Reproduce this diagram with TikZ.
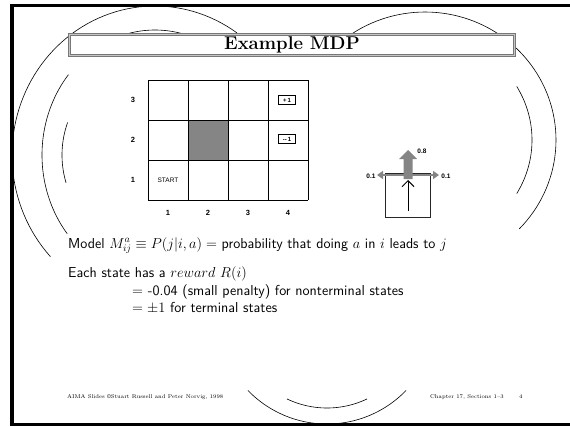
\documentclass[tikz,border=0pt]{standalone}
\usepackage{fontspec}
\newfontfamily\figfont{Liberation Sans}
\usetikzlibrary{arrows.meta}
\definecolor{figgray}{HTML}{858585}
\definecolor{boxgray}{HTML}{777777}

% elliptic background ring: cx, cy, rx, ry, from, to
\newcommand\bgarc[6]{\draw[arcline, domain=#5:#6, samples=70] plot ({#1+#3*cos(\x)},{#2-#4*sin(\x)});}

\begin{document}
\begin{tikzpicture}[x=1pt, y=-1pt, >=Stealth,
  arcline/.style={black, line width=0.6pt},
  cell/.style={line width=1pt},
  lbl/.style={font=\figfont\bfseries\fontsize{7.5}{8}\selectfont, inner sep=0pt},
  prob/.style={font=\figfont\bfseries\fontsize{6.5}{7}\selectfont, inner sep=0pt},
  termbox/.style={draw, line width=0.8pt, inner sep=0pt, minimum width=17pt, minimum height=8.5pt,
    font=\figfont\bfseries\fontsize{6}{6}\selectfont},
  titlebox/.style={draw=boxgray, double=gray!45, double distance=1.2pt, line width=1pt,
    fill=white, minimum width=444.5pt, minimum height=20.5pt, inner sep=0pt,
    font=\rmfamily\bfseries\fontsize{18.5}{20}\selectfont},
  body/.style={font=\sffamily\fontsize{14.4}{17}\selectfont, anchor=base west, inner sep=0pt},
  foot/.style={font=\rmfamily\fontsize{5.5}{6}\selectfont, anchor=base west, inner sep=0pt},
  sidearr/.style={figgray, line width=2.5pt, -{Triangle[length=6pt,width=8pt]}}]
  \useasboundingbox (0,0) rectangle (570,426);

  % background rings
  \bgarc{155}{155}{143}{149}{55}{223}
  \bgarc{155}{155}{113}{125}{70}{110}
  \bgarc{155}{155}{113}{125}{140}{219}
  \bgarc{155}{155}{93}{95}{160}{197}
  \bgarc{425}{140}{131}{128}{-44}{124}
  \bgarc{425}{140}{107}{104}{-31}{31}
  \bgarc{327}{315}{93}{93}{244.5}{295.5}
  \bgarc{327}{314}{110}{110}{224}{316}

  \node[titlebox] (title) at (292,45) {Example MDP};

  % grid world
  \fill[figgray] (188,120) rectangle (228,160);
  \foreach \gx in {148,188,228,268,308} \draw[cell] (\gx,80) -- (\gx,200);
  \foreach \gy in {80,120,160,200} \draw[cell] (148,\gy) -- (308,\gy);
  \foreach \r/\gy in {3/100,2/140,1/180} \node[lbl] (row\r) at (133,\gy) {\r};
  \foreach \c/\gx in {1/168,2/208,3/248,4/288} \node[lbl] (col\c) at (\gx,213) {\c};
  \node[font=\figfont\fontsize{6.5}{7}\selectfont, inner sep=0pt] (start) at (168,180) {START};
  \node[termbox] (plus) at (287,100) {+\,1};
  \node[termbox] (minus) at (287,139) {--\,1};

  % transition model
  \draw[line width=0.8pt, black!85] (385,173) rectangle (430,217);
  \coordinate (hub) at (408,175);
  \coordinate (west) at (377,175);
  \coordinate (east) at (439,175);
  \draw[sidearr] (hub) -- (west);
  \draw[sidearr] (hub) -- (east);
  \fill[figgray] (403.5,179) -- (403.5,159) -- (399,159) -- (408,150) -- (417,159)
    -- (412.5,159) -- (412.5,179) -- cycle;
  \coordinate (tail) at (408,211);
  \coordinate (head) at (408,180);
  \draw[line width=0.9pt, -{Straight Barb[length=6pt,width=12pt]}] (tail) -- (head);
  \node[prob] (pup) at (422,151) {0.8};
  \node[prob] (pleft) at (371,176) {0.1};
  \node[prob] (pright) at (446,176) {0.1};

  % slide text
  \node[body] (model) at (68,248) {Model $M^a_{ij}\equiv P(j|i,a) =$ probability that doing $a$ in $i$ leads to $j$};
  \node[body] (each) at (68,277) {Each state has a $reward\ R(i)$};
  \node[body] (pen) at (132,295) {$=$ -0.04 (small penalty) for nonterminal states};
  \node[body] (term) at (132,312) {$=\pm1$ for terminal states};

  \node[foot] (credit) at (67,398) {AIMA Slides \copyright Stuart Russell and Peter Norvig, 1998};
  \node[foot] (chap) at (430,398) {Chapter 17, Sections 1--3};
  \node[foot] (page) at (519,398) {4};

  % slide frame
  \draw[line width=3.5pt] (570,5.5) -- (12,5.5) -- (12,424.5) -- (570,424.5);
\end{tikzpicture}
\end{document}
